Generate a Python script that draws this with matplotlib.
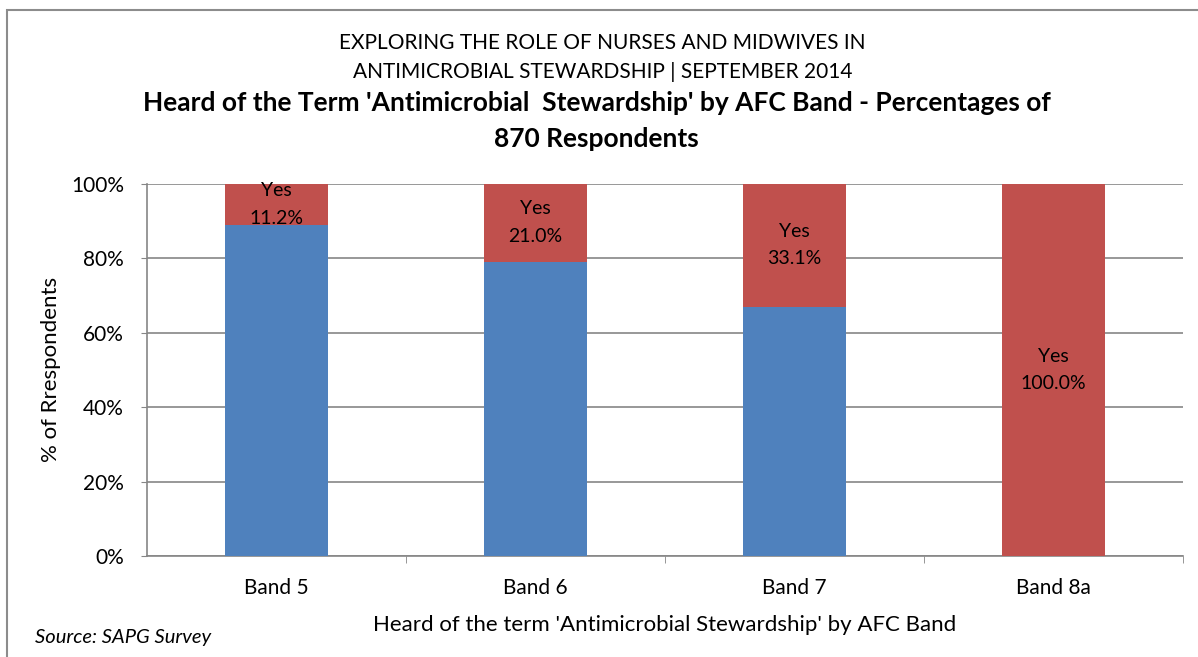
import matplotlib
matplotlib.use('Agg')
import matplotlib.pyplot as plt
from matplotlib.patches import Rectangle

bands = ['Band 5', 'Band 6', 'Band 7', 'Band 8a']
heard_yes = [11.2, 21.0, 33.1, 100.0]
heard_no = [100 - v for v in heard_yes]

plt.rcParams['font.family'] = ['Lato', 'DejaVu Sans']

blue = '#4F81BD'
red = '#C0504D'
grey = '#868686'

fig = plt.figure(figsize=(11.98, 6.57), dpi=100)
ax = fig.add_axes([0.1227, 0.1537, 0.8648, 0.567])

x = range(len(bands))
ax.bar(x, heard_no, width=0.4, color=blue, zorder=3)
bars_yes = ax.bar(x, heard_yes, width=0.4, bottom=heard_no, color=red, zorder=3)

for i, b in enumerate(bars_yes):
    mid = heard_no[i] + heard_yes[i] / 2
    ax.text(b.get_x() + b.get_width() / 2, mid, 'Yes\n%.1f%%' % heard_yes[i],
            ha='center', va='center', fontsize=14, linespacing=1.75, zorder=4)

ax.set_xlim(-0.5, 3.5)
ax.set_ylim(0, 100)
ax.set_yticks([0, 20, 40, 60, 80, 100])
ax.set_yticklabels(['0%', '20%', '40%', '60%', '80%', '100%'], fontsize=15)
ax.set_xticks(list(x))
ax.set_xticklabels(bands, fontsize=15)
ax.set_xticks([0.5, 1.5, 2.5, 3.5], minor=True)
ax.tick_params(axis='x', which='major', length=0, pad=16)
ax.tick_params(axis='x', which='minor', length=5, color=grey)
ax.tick_params(axis='y', length=4.5, color=grey, pad=12)
ax.grid(axis='y', color=grey, linewidth=1.2, zorder=0)
for s in ['top', 'right']:
    ax.spines[s].set_visible(False)
for s in ['left', 'bottom']:
    ax.spines[s].set_color(grey)
    ax.spines[s].set_linewidth(1.2)

ax.set_ylabel('% of Rrespondents', fontsize=16, labelpad=7)
ax.set_xlabel("Heard of the term 'Antimicrobial Stewardship' by AFC Band", fontsize=16, labelpad=12)

fig.text(0.503, 0.935, 'EXPLORING THE ROLE OF NURSES AND MIDWIVES IN', ha='center', va='center', fontsize=15)
fig.text(0.503, 0.891, 'ANTIMICROBIAL STEWARDSHIP | SEPTEMBER 2014', ha='center', va='center', fontsize=15)
fig.text(0.498, 0.843, "Heard of the Term 'Antimicrobial  Stewardship' by AFC Band - Percentages of",
         ha='center', va='center', fontsize=19, fontweight='bold')
fig.text(0.498, 0.788, '870 Respondents', ha='center', va='center', fontsize=19, fontweight='bold')
fig.text(0.029, 0.03, 'Source: SAPG Survey', ha='left', va='center', fontsize=14.5, fontstyle='italic')

fig.patches.append(Rectangle((7 / 1198, -0.1), 1.2, (657 - 10) / 657 + 0.1,
                             transform=fig.transFigure, fill=False,
                             edgecolor='#8C8C8C', linewidth=1.5))

fig.savefig('out.png', dpi=100)
